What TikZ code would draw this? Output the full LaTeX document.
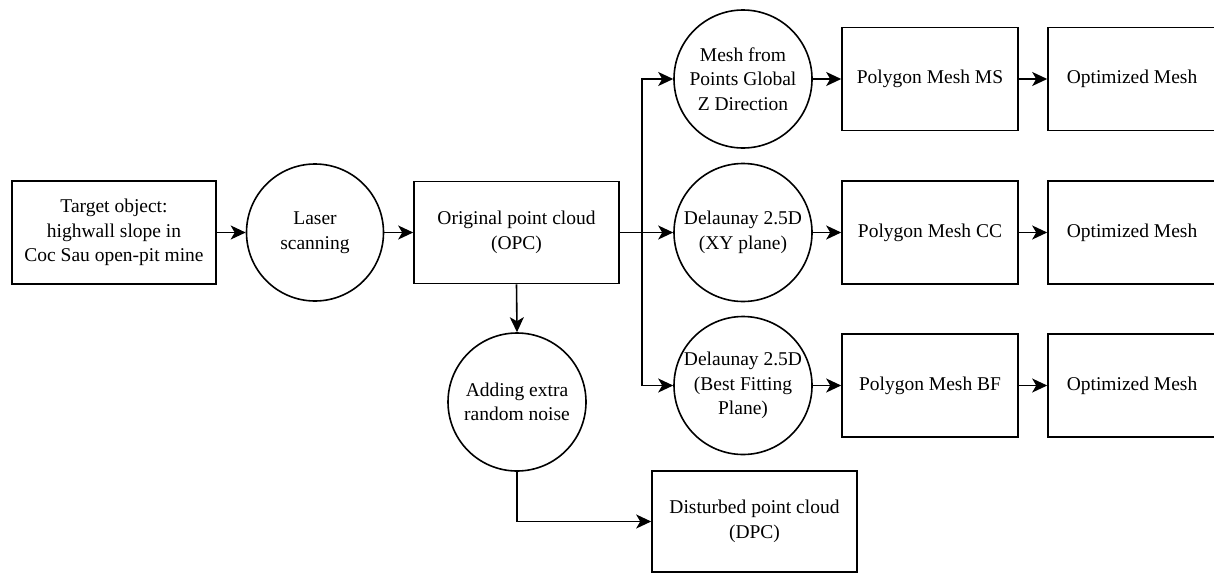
\documentclass[tikz,border=0pt]{standalone}
\usepackage{fontspec}
\setmainfont{Liberation Serif}
\usetikzlibrary{arrows.meta}
\begin{document}
\begin{tikzpicture}[x=1pt,y=-1pt,
  every node/.style={font=\fontsize{19.5}{24.5}\selectfont, align=center, inner sep=0pt},
  boxnode/.style={draw, line width=1.6pt, rectangle},
  circnode/.style={draw, line width=1.6pt, circle, minimum size=137pt},
  arr/.style={line width=1.6pt, -{Stealth[length=15pt,width=14pt,inset=4pt]}}]
\useasboundingbox (0,0) rectangle (1214,573);
\clip (0,0) rectangle (1214,573);
\node[boxnode, minimum width=204pt, minimum height=103pt] (tgt) at (114,232.5) {Target object:\\highwall slope in\\Coc Sau open-pit mine};
\node[circnode] (laser) at (315,232.5) {Laser\\scanning};
\node[boxnode, minimum width=205pt, minimum height=102pt] (opc) at (516.5,232.5) {Original point cloud\\(OPC)};
\node[circnode, minimum size=138pt] (noise) at (517,402) {Adding extra\\random noise};
\node[boxnode, minimum width=205pt, minimum height=101pt] (dpc) at (754.5,521.5) {Disturbed point cloud\\(DPC)};
\node[circnode, minimum size=138pt] (mesh) at (743,79) {Mesh from\\Points Global\\Z Direction};
\node[circnode, minimum size=138pt] (dxy) at (743,232.5) {Delaunay 2.5D\\(XY plane)};
\node[circnode, minimum size=138pt] (dbf) at (743,385.5) {Delaunay 2.5D\\(Best Fitting\\Plane)};
\node[boxnode, minimum width=176pt, minimum height=103pt] (pms) at (930,79) {Polygon Mesh MS};
\node[boxnode, minimum width=176pt, minimum height=103pt] (pcc) at (930,232.5) {Polygon Mesh CC};
\node[boxnode, minimum width=176pt, minimum height=103pt] (pbf) at (930,385.5) {Polygon Mesh BF};
\node[boxnode, minimum width=168pt, minimum height=103pt] (o1) at (1132,79) {Optimized Mesh};
\node[boxnode, minimum width=168pt, minimum height=103pt] (o2) at (1132,232.5) {Optimized Mesh};
\node[boxnode, minimum width=168pt, minimum height=103pt] (o3) at (1132,385.5) {Optimized Mesh};
\coordinate (j) at (642,232.5);
\draw[arr] (tgt) -- (laser);
\draw[arr] (laser) -- (opc);
\draw[arr] (opc.east) -- (dxy.west);
\draw[arr] (j) |- (mesh.west);
\draw[arr] (j) |- (dbf.west);
\draw[arr] (opc.south) -- (noise.north);
\draw[arr] (noise.south) |- (dpc.west);
\draw[arr] (mesh) -- (pms);
\draw[arr] (dxy) -- (pcc);
\draw[arr] (dbf) -- (pbf);
\draw[arr] (pms) -- (o1);
\draw[arr] (pcc) -- (o2);
\draw[arr] (pbf) -- (o3);
\end{tikzpicture}
\end{document}
